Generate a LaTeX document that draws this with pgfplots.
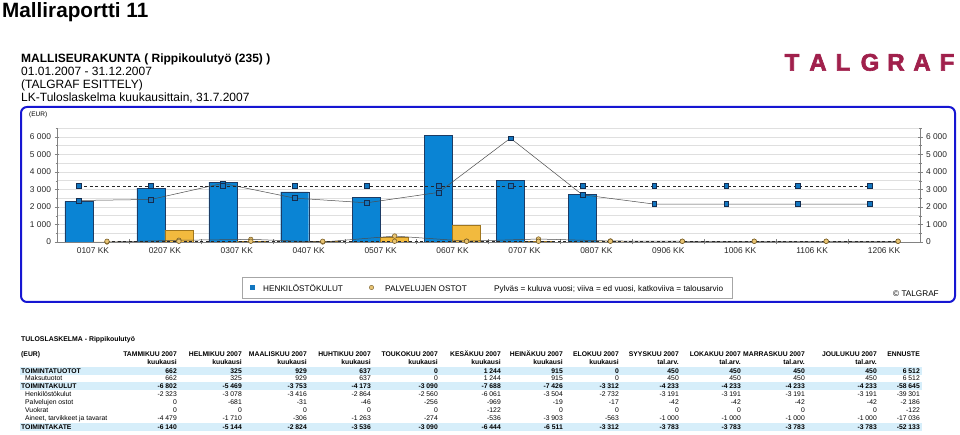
\documentclass[border=0pt]{standalone}
\usepackage{pgfplots}
\pgfplotsset{compat=1.18}
\usepackage{fontspec}
\setmainfont{Liberation Sans}
\newfontfamily\logofont{Liberation Sans}[BoldFeatures={FakeBold=2.5}]
\definecolor{barblue}{RGB}{10,132,212}
\definecolor{bardraw}{RGB}{30,60,100}
\definecolor{baryel}{RGB}{242,186,62}
\definecolor{yeldraw}{RGB}{160,118,30}
\definecolor{sqblue}{RGB}{18,118,192}
\definecolor{sqdraw}{RGB}{20,45,80}
\definecolor{circyel}{RGB}{232,196,116}
\definecolor{circdraw}{RGB}{110,84,30}
\definecolor{boxblue}{RGB}{22,22,210}
\definecolor{band}{RGB}{214,238,250}
\definecolor{logo}{RGB}{160,32,76}
\definecolor{axgray}{RGB}{130,130,130}

\newcommand\trow[3]{%
  \foreach \v [count=\c from 0] in {#3} {
    \pgfmathsetmacro\xr{{177,242,307,371,438,501,563,619,679,741,805,877,920}[\c]}
    \node[anchor=base east, inner sep=0pt, font=#2] at (\xr,#1) {\v};
  }}

\begin{document}
\begin{tikzpicture}
\useasboundingbox (0pt,0pt) rectangle (960pt,-435pt);
\begin{scope}[x=1pt,y=-1pt]
  \node[anchor=base west, inner sep=0pt] at (2,18) {\fontsize{20.7}{24}\selectfont\bfseries Malliraportti 11};
  \node[anchor=base west, inner sep=0pt] at (21,62.7) {\fontsize{12}{14}\selectfont\bfseries MALLISEURAKUNTA ( Rippikoulutyö (235) )};
  \node[anchor=base west, inner sep=0pt] at (21,75.8) {\fontsize{12}{14}\selectfont 01.01.2007 - 31.12.2007};
  \node[anchor=base west, inner sep=0pt] at (21,88.9) {\fontsize{12}{14}\selectfont (TALGRAF ESITTELY)};
  \node[anchor=base west, inner sep=0pt] at (21,102) {\fontsize{12}{14}\selectfont LK-Tuloslaskelma kuukausittain, 31.7.2007};
  % logo
  \foreach \l/\x in {T/792,A/818,L/843,G/870,R/896,A/922,F/947}
    \node[anchor=base, inner sep=0pt, text=logo] at (\x,70.7) {\fontsize{24}{26}\logofont\bfseries \l};
  % frame
  \draw[boxblue, line width=2pt, rounded corners=6pt] (21,107) rectangle (955,302);
  \node[anchor=base west, inner sep=0pt] at (29,117) {\fontsize{6.5}{8}\selectfont (EUR)};
  % legend
  \draw[gray!70, line width=0.6pt] (242,277) rectangle (732,298);
  \fill[sqblue] (249.5,285) rectangle (254.5,290);
  \draw[circdraw, fill=circyel, line width=0.4pt] (371.5,287.5) circle (2.2);
  \node[anchor=base west, inner sep=0pt] at (263,291) {\fontsize{8.2}{10}\selectfont HENKILÖSTÖKULUT};
  \node[anchor=base west, inner sep=0pt] at (385,291) {\fontsize{8.2}{10}\selectfont PALVELUJEN OSTOT};
  \node[anchor=base west, inner sep=0pt] at (494,291) {\fontsize{8.2}{10}\selectfont Pylväs = kuluva vuosi; viiva = ed vuosi, katkoviiva = talousarvio};
  \node[anchor=base west, inner sep=0pt] at (893,297) {\fontsize{8.2}{10}\selectfont © TALGRAF};
  % table
  \node[anchor=base west, inner sep=0pt] at (21,341) {\fontsize{6.9}{8}\selectfont\bfseries TULOSLASKELMA - Rippikoulutyö};
  \fill[band] (20,367) rectangle (922,375.2);
  \fill[band] (20,381.8) rectangle (922,389.6);
  \fill[band] (20,422.6) rectangle (922,430.6);
  \node[anchor=base west, inner sep=0pt] at (21,356.7) {\fontsize{6.8}{8}\selectfont\bfseries (EUR)};
  \trow{356.7}{\fontsize{6.8}{8}\selectfont\bfseries}{TAMMIKUU 2007,HELMIKUU 2007,MAALISKUU 2007,HUHTIKUU 2007,TOUKOKUU 2007,KESÄKUU 2007,HEINÄKUU 2007,ELOKUU 2007,SYYSKUU 2007,LOKAKUU 2007,MARRASKUU 2007,JOULUKUU 2007,ENNUSTE}
  \trow{364.3}{\fontsize{6.8}{8}\selectfont\bfseries}{kuukausi,kuukausi,kuukausi,kuukausi,kuukausi,kuukausi,kuukausi,kuukausi,tal.arv.,tal.arv.,tal.arv.,tal.arv.,{}}
  \node[anchor=base west, inner sep=0pt] at (21,373.5) {\fontsize{6.8}{8}\selectfont\bfseries TOIMINTATUOTOT};
  \node[anchor=base west, inner sep=0pt] at (25,380.7) {\fontsize{6.8}{8}\selectfont Maksutuotot};
  \node[anchor=base west, inner sep=0pt] at (21,388.3) {\fontsize{6.8}{8}\selectfont\bfseries TOIMINTAKULUT};
  \node[anchor=base west, inner sep=0pt] at (25,396) {\fontsize{6.8}{8}\selectfont Henkilöstökulut};
  \node[anchor=base west, inner sep=0pt] at (25,404) {\fontsize{6.8}{8}\selectfont Palvelujen ostot};
  \node[anchor=base west, inner sep=0pt] at (25,412.5) {\fontsize{6.8}{8}\selectfont Vuokrat};
  \node[anchor=base west, inner sep=0pt] at (25,420.7) {\fontsize{6.8}{8}\selectfont Aineet, tarvikkeet ja tavarat};
  \node[anchor=base west, inner sep=0pt] at (21,429) {\fontsize{6.8}{8}\selectfont\bfseries TOIMINTAKATE};
  \trow{373.5}{\fontsize{6.8}{8}\selectfont\bfseries}{662,325,929,637,0,1 244,915,0,450,450,450,450,6 512}
  \trow{380.7}{\fontsize{6.8}{8}\selectfont}{662,325,929,637,0,1 244,915,0,450,450,450,450,6 512}
  \trow{388.3}{\fontsize{6.8}{8}\selectfont\bfseries}{-6 802,-5 469,-3 753,-4 173,-3 090,-7 688,-7 426,-3 312,-4 233,-4 233,-4 233,-4 233,-58 645}
  \trow{396}{\fontsize{6.8}{8}\selectfont}{-2 323,-3 078,-3 416,-2 864,-2 560,-6 061,-3 504,-2 732,-3 191,-3 191,-3 191,-3 191,-39 301}
  \trow{404}{\fontsize{6.8}{8}\selectfont}{0,-681,-31,-46,-256,-969,-19,-17,-42,-42,-42,-42,-2 186}
  \trow{412.5}{\fontsize{6.8}{8}\selectfont}{0,0,0,0,0,-122,0,0,0,0,0,0,-122}
  \trow{420.7}{\fontsize{6.8}{8}\selectfont}{-4 479,-1 710,-306,-1 263,-274,-536,-3 903,-563,-1 000,-1 000,-1 000,-1 000,-17 036}
  \trow{429}{\fontsize{6.8}{8}\selectfont\bfseries}{-6 140,-5 144,-2 824,-3 536,-3 090,-6 444,-6 511,-3 312,-3 783,-3 783,-3 783,-3 783,-52 133}
\end{scope}

\pgfplotsset{kkaxis/.style={
  at={(57pt,-242pt)}, anchor=south west,
  scale only axis, width=863pt, height=114pt,
  xmin=-0.5, xmax=11.5, ymin=0, ymax=6500,
  ytick={0,1000,...,6000}, minor ytick={500,1500,...,6500},
  axis line style={draw=axgray,-},
  tick align=center, major tick length=5pt, minor tick length=3pt,
  tick style={axgray},
  ticklabel style={font=\fontsize{8.4}{10}\selectfont, text=black!85},
  yticklabel style={/pgf/number format/1000 sep={\ }},
  /pgf/number format/assume math mode=true,
}}

\begin{axis}[kkaxis,
  axis x line*=bottom, axis y line*=left,
  xtick={0.5,1.5,...,10.5}, xticklabels={},
  extra x ticks={0,...,11},
  extra x tick labels={0107 KK,0207 KK,0307 KK,0407 KK,0507 KK,0607 KK,0707 KK,0807 KK,0906 KK,1006 KK,1106 KK,1206 KK},
  extra x tick style={major tick length=0pt, xticklabel style={yshift=-2pt}},
  ymajorgrids, yminorgrids,
  major grid style={gray!25}, minor grid style={gray!25},
]
\addplot[ybar, bar width=28pt, bar shift=-14pt, fill=barblue, draw=bardraw, line width=0.4pt]
  coordinates {(0,2323)(1,3078)(2,3416)(3,2864)(4,2560)(5,6061)(6,3504)(7,2732)};
\addplot[ybar, bar width=28pt, bar shift=14pt, fill=baryel, draw=yeldraw, line width=0.4pt]
  coordinates {(0,0)(1,681)(2,31)(3,46)(4,256)(5,969)(6,19)(7,17)};
% palvelujen ostot: ed vuosi & talousarvio
\addplot[gray!60!black, line width=0.5pt, mark=*, mark size=2.3pt, mark options={fill=circyel, draw=circdraw}]
  table[x expr=\thisrow{m}+0.195, y=v] {
m v
0 0
1 100
2 150
3 0
4 340
5 50
6 170
7 60
8 42
9 42
10 42
11 42
};
\addplot[gray!30!black, line width=0.5pt, dash pattern=on 3pt off 2.5pt, mark=*, mark size=2.3pt, mark options={solid, fill=circyel, draw=circdraw}]
  table[x expr=\thisrow{m}+0.195, y=v] {
m v
0 42
1 42
2 42
3 42
4 42
5 42
6 42
7 42
8 42
9 42
10 42
11 42
};
% henkilostokulut: ed vuosi & talousarvio
\addplot[gray!60!black, line width=0.5pt, mark=square*, mark size=2.4pt, mark options={fill=sqblue, draw=sqdraw}]
  table[x expr=\thisrow{m}-0.195, y=v] {
m v
0 2367
1 2425
2 3343
3 2502
4 2235
5 2826
6 5920
7 2693
8 2160
9 2160
10 2160
11 2160
};
\addplot[gray!30!black, line width=0.5pt, dash pattern=on 3pt off 2.5pt, mark=square*, mark size=2.4pt, mark options={solid, fill=sqblue, draw=sqdraw}]
  table[x expr=\thisrow{m}-0.195, y=v] {
m v
0 3191
1 3191
2 3191
3 3191
4 3191
5 3191
6 3191
7 3191
8 3191
9 3191
10 3191
11 3191
};
\end{axis}

\begin{axis}[kkaxis,
  axis x line=none, axis y line*=right,
]
\addplot[draw=none] coordinates {(0,0)};
\end{axis}
\end{tikzpicture}
\end{document}
